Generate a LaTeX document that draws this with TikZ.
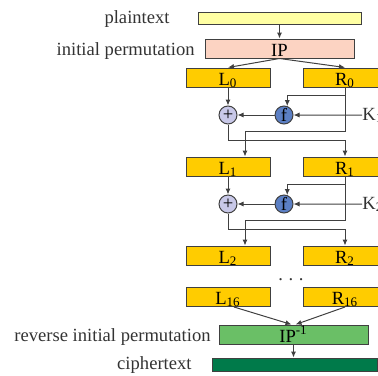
\documentclass[tikz,border=0pt]{standalone}
\usepackage{fontspec}
\setmainfont{Liberation Serif}
\usetikzlibrary{arrows.meta}

\definecolor{plainyellow}{HTML}{FFFFA3}
\definecolor{ippink}{HTML}{FCD3C2}
\definecolor{halfgold}{HTML}{FFCC00}
\definecolor{xorlilac}{HTML}{C8C8E8}
\definecolor{fblue}{HTML}{5B7FC4}
\definecolor{invgreen}{HTML}{6ABF66}
\definecolor{ciphgreen}{HTML}{007A4A}
\definecolor{linegray}{HTML}{404040}

\begin{document}
\begin{tikzpicture}[x=0.5pt, y=-0.5pt,
    base/.style = {rectangle, draw=linegray, line width=0.5pt, inner sep=0pt,
minimum height=9.5pt, text height=7.5pt, text depth=0pt,
text centered, font=\fontsize{9.3}{11}\selectfont},
    half/.style = {base, minimum width=42pt, fill=halfgold},
    op/.style = {circle, draw=linegray, line width=0.5pt, inner sep=0pt,
minimum size=9pt, font=\fontsize{9.3}{11}\selectfont},
    lbl/.style = {inner sep=0pt, font=\fontsize{9.3}{11}\selectfont, text=black!80},
    conn/.style = {draw=linegray, line width=0.5pt, -{Latex[length=3pt,width=2.6pt]}}
]
  \useasboundingbox (0,0) rectangle (378,375);

  \node (plain) [base, fill=plainyellow, minimum width=81.5pt, minimum height=6pt,
    text height=0pt] at (279.5,18) {};
  \node (ip) [base, fill=ippink, minimum width=74.5pt] at (279.5,48.5) {IP};
  \node (l0) [half] at (228,77.5) {L\textsubscript{0}};
  \node (r0) [half] at (345,77.5) {R\textsubscript{0}};
  \node (x0) [op, fill=xorlilac] at (228,115) {+};
  \node (f0) [op, fill=fblue] at (284,115) {f};
  \node (k0) [lbl, anchor=base west] at (362,120) {K\textsubscript{1}};
  \node (l1) [half] at (228,166.5) {L\textsubscript{1}};
  \node (r1) [half] at (345,166.5) {R\textsubscript{1}};
  \node (x1) [op, fill=xorlilac] at (228,204) {+};
  \node (f1) [op, fill=fblue] at (284,204) {f};
  \node (k1) [lbl, anchor=base west] at (362,209) {K\textsubscript{2}};
  \node (l2) [half] at (228,255.5) {L\textsubscript{2}};
  \node (r2) [half] at (345,255.5) {R\textsubscript{2}};
  \node (dots) [lbl, anchor=base] at (291,280) {.\hspace{0.3em}.\hspace{0.3em}.};
  \node (l16) [half] at (228,297) {L\textsubscript{16}};
  \node (r16) [half] at (345,297) {R\textsubscript{16}};
  \node (ipinv) [base, fill=invgreen, minimum width=74.5pt] at (293.5,334.5) {IP\textsuperscript{-1}};
  \node (ciph) [base, fill=ciphgreen, minimum width=82.5pt, minimum height=6.5pt,
    text height=0pt] at (294.5,364.5) {};

  \node (plainlbl) [lbl, anchor=base east] at (170,23) {plaintext};
  \node (iplbl) [lbl, anchor=base east] at (195,55) {initial permutation};
  \node (invlbl) [lbl, anchor=base east] at (211,341) {reverse initial permutation};
  \node (ciphlbl) [lbl, anchor=base east] at (192,369) {ciphertext};

  \draw[conn] (plain) -- (ip);
  \draw[conn] (ip.south) -- (l0.north);
  \draw[conn] (ip.south) -- (r0.north);

  \draw[conn] (l0) -- (x0);
  \draw[conn] (f0) -- (x0);
  \draw[conn] (k0.west) -- (f0);
  \draw[conn] (r0.south) -- ++(0,8) -| (f0.70);
  \draw[conn] (r0.south) -- ++(0,44) -| ([xshift=8.5pt]l1.north);
  \draw[conn] (x0.south) -- ++(0,16) -| (r1.north);

  \draw[conn] (l1) -- (x1);
  \draw[conn] (f1) -- (x1);
  \draw[conn] (k1.west) -- (f1);
  \draw[conn] (r1.south) -- ++(0,8) -| (f1.70);
  \draw[conn] (r1.south) -- ++(0,44) -| ([xshift=8.5pt]l2.north);
  \draw[conn] (x1.south) -- ++(0,16) -| (r2.north);

  \draw[conn] ([xshift=3pt]l16.south) -- ([xshift=-1pt]ipinv.north);
  \draw[conn] (r16.south) -- ([xshift=1pt]ipinv.north);
  \draw[conn] (ipinv.south) -- (ipinv.south |- ciph.north);

\end{tikzpicture}
\end{document}
